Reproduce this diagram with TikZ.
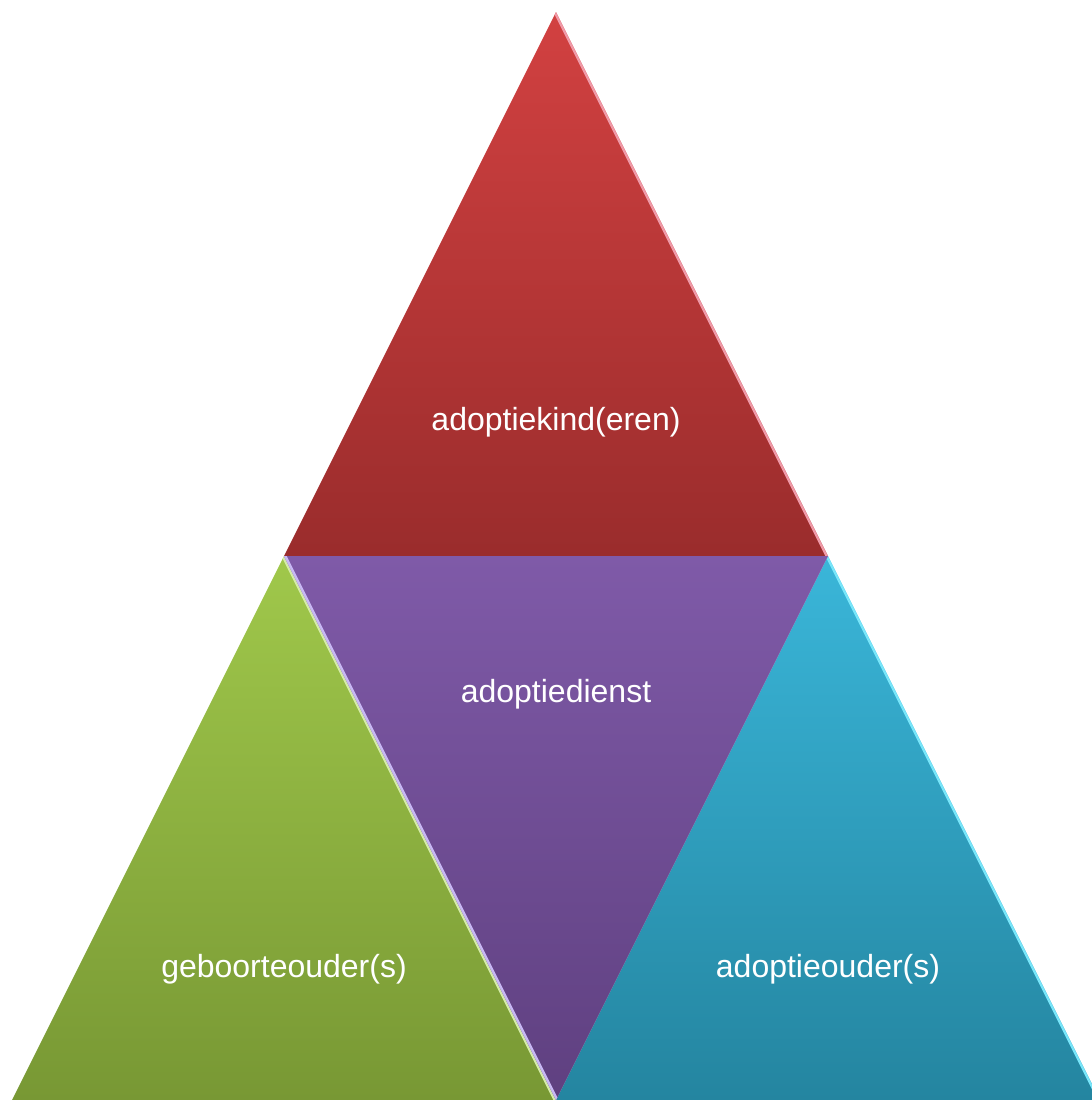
\documentclass[tikz,border=0pt]{standalone}
\usepackage{fontspec}
\setmainfont{Liberation Sans}
\definecolor{kindtop}{HTML}{D24141}
\definecolor{kindbot}{HTML}{9A2C2C}
\definecolor{kindrim}{HTML}{F09AA8}
\definecolor{diensttop}{HTML}{7F5AA8}
\definecolor{dienstbot}{HTML}{5F4080}
\definecolor{dienstrim}{HTML}{C8B8F4}
\definecolor{geboortetop}{HTML}{A0C84B}
\definecolor{geboortebot}{HTML}{789834}
\definecolor{geboorterim}{HTML}{D4EBA8}
\definecolor{oudertop}{HTML}{3AB6D9}
\definecolor{ouderbot}{HTML}{2485A0}
\definecolor{ouderrim}{HTML}{78E6FA}
\begin{document}
\begin{tikzpicture}[x=0.5pt,y=-0.5pt,
		label/.style={text=white,font=\fontsize{16}{19}\selectfont},
		rim/.style={line width=2.4pt,line cap=round}]
	
		\useasboundingbox (0,0) rectangle (1092,1100);
		\clip (0,0) rectangle (1092,1100);
		
		\coordinate (apex) at (556,12);
		\coordinate (ml) at (284,556);
		\coordinate (mr) at (828,556);
		\coordinate (bl) at (12,1100);
		\coordinate (bm) at (556,1100);
		\coordinate (br) at (1100,1100);
		
		% adoptiekind
		\begin{scope}
			\clip (apex) -- (mr) -- (ml) -- cycle;
			\shade[top color=kindtop, bottom color=kindbot] (apex) -- (mr) -- (ml) -- cycle;
			\draw[rim, color=kindrim] (apex) -- (mr);
		\end{scope}
		% geboorteouder
		\begin{scope}
			\clip (ml) -- (bm) -- (bl) -- cycle;
			\shade[top color=geboortetop, bottom color=geboortebot] (ml) -- (bm) -- (bl) -- cycle;
			\draw[rim, color=geboorterim] (ml) -- (bm);
		\end{scope}
		% adoptieouder
		\begin{scope}
			\clip (mr) -- (br) -- (bm) -- cycle;
			\shade[top color=oudertop, bottom color=ouderbot] (mr) -- (br) -- (bm) -- cycle;
			\draw[rim, color=ouderrim] (mr) -- (br);
		\end{scope}
		% adoptiedienst
		\begin{scope}
			\clip (ml) -- (mr) -- (bm) -- cycle;
			\shade[top color=diensttop, bottom color=dienstbot] (ml) -- (mr) -- (bm) -- cycle;
			\draw[rim, color=dienstrim] (ml) -- (bm);
		\end{scope}
		
		\node[label] (kind) at (556,422) {adoptiekind(eren)};
		\node[label] (dienst) at (556,694) {adoptiedienst};
		\node[label] (geboorte) at (284,969) {geboorteouder(s)};
		\node[label] (ouder) at (828,969) {adoptieouder(s)};
	
	\end{tikzpicture}
\end{document}
